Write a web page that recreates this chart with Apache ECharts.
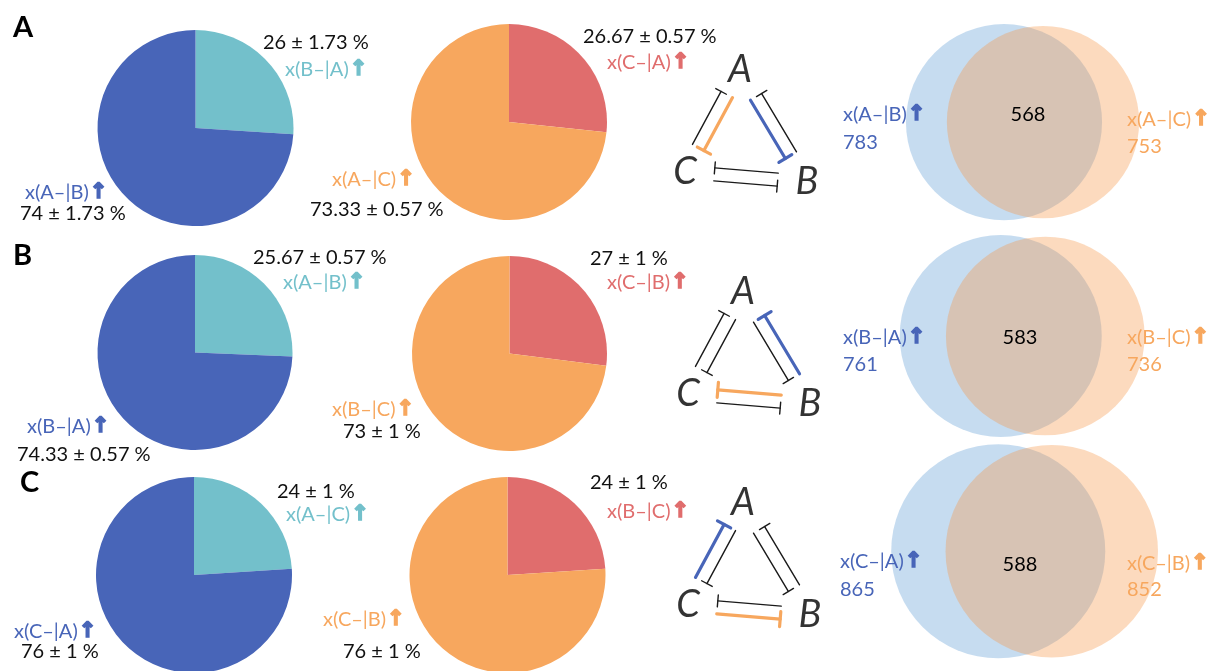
<!DOCTYPE html>
<html>
<head>
<meta charset="utf-8">
<script src="https://cdn.jsdelivr.net/npm/echarts@6/dist/echarts.min.js"></script>
<style>
  html, body { margin: 0; padding: 0; background: #fff; }
  #chart { width: 1218px; height: 671px; }
</style>
</head>
<body>
<div id="chart"></div>
<script>
// ---------- data ----------
const panels = ['A', 'B', 'C'];

// left pie of each panel (percent of cases, mean and sd)
const leftPieMinor = [26, 25.67, 24];
const leftPieMinorSd = [1.73, 0.57, 1];
const leftPieMajor = [74, 74.33, 76];
const leftPieMajorSd = [1.73, 0.57, 1];
const leftPieMinorName = ['x(B–|A)', 'x(A–|B)', 'x(A–|C)'];
const leftPieMajorName = ['x(A–|B)', 'x(B–|A)', 'x(C–|A)'];

// right pie of each panel
const rightPieMinor = [26.67, 27, 24];
const rightPieMinorSd = [0.57, 1, 1];
const rightPieMajor = [73.33, 73, 76];
const rightPieMajorSd = [0.57, 1, 1];
const rightPieMinorName = ['x(C–|A)', 'x(C–|B)', 'x(B–|C)'];
const rightPieMajorName = ['x(A–|C)', 'x(B–|C)', 'x(C–|B)'];

// overlap of the two up-regulated sets
const vennLeft = [783, 761, 865];
const vennRight = [753, 736, 852];
const vennShared = [568, 583, 588];

// mutual-inhibition network: highlighted links leave the panel's gene
// [target drawn in blue, target drawn in orange]
const highlightTargets = [['B', 'C'], ['A', 'C'], ['A', 'B']];

// ---------- styling / layout ----------
const COL = {
  blue: '#4865B8', teal: '#73C0CB', orange: '#F7A75E', red: '#E06D6D',
  vennBlue: 'rgba(91,155,213,0.35)', vennOrange: 'rgba(247,150,70,0.35)',
  ink: '#111'
};
const FONT = 'Lato, "Noto Sans", sans-serif';

const pieLayout = [
  { left: [195.5, 128, 98], right: [509, 122, 98] },
  { left: [195, 352.5, 97.5], right: [509.5, 353.5, 97.5] },
  { left: [194, 575, 98], right: [507.5, 575, 98] }
];
// anchor (left x, middle y) of the pie captions:
// leftMinorVal, leftMinorName, leftMajorName, leftMajorVal, rightMinorVal, rightMinorName, rightMajorName, rightMajorVal
const pieTextPos = [
  [[263, 43], [285, 70], [25, 193], [20, 214], [583, 37], [607, 63], [332, 180], [310, 210]],
  [[253, 258], [283, 283], [27, 427], [17, 455], [590, 259], [607, 283], [332, 410], [343, 432]],
  [[277, 492], [286, 515], [14, 632], [21, 652], [590, 483], [607, 512], [323, 620], [343, 652]]
];
const panelLetterPos = [[13, 28], [13, 256], [20, 483]];

// network grids: local origin sits on node A, 1 unit = 1 px
const netOrigin = [[740, 70], [743, 292], [743, 503]];
const netNodes = { A: [0, 0], B: [67, 112], C: [-55, 102] };
// lines drawn on the outer side of each node pair
const outerLinks = ['C>A', 'B>A', 'C>B'];

// venn grids: axis units are sqrt(count / pi), so circle area follows the counts
const vennCenter = [[1023.5, 120], [1023, 336], [1025, 560.5]];
const vennPxPerUnit = [6.21, 6.49, 6.45];
const vennHalfGap = [3.14, 3.43, 4.15];
const vennTextPos = [
  { ln: [843, 115], lc: [843, 143], sh: [1028, 115], rn: [1127, 120], rc: [1127, 147] },
  { ln: [843, 338], lc: [843, 365], sh: [1020, 338], rn: [1127, 338], rc: [1127, 365] },
  { ln: [840, 562], lc: [840, 590], sh: [1020, 565], rn: [1127, 564], rc: [1127, 590] }
];

// ---------- build ----------
const grids = [], xAxes = [], yAxes = [], series = [], graphics = [];

function addGrid(left, top, w, h, xr, yr, inverse) {
  grids.push({ left, top, width: w, height: h, containLabel: false, show: false });
  const i = grids.length - 1;
  xAxes.push({ gridIndex: i, type: 'value', min: xr[0], max: xr[1], show: false });
  yAxes.push({ gridIndex: i, type: 'value', min: yr[0], max: yr[1], inverse: !!inverse, show: false });
  return i;
}

function pctText(v, sd) { return v + ' ± ' + sd + ' %'; }

function plainText(x, y, text, fill, size, weight, align) {
  graphics.push({
    type: 'text', x, y, silent: true, z: 100,
    style: {
      text, fill, font: (weight || 'normal') + ' ' + (size || 20) + 'px ' + FONT,
      align: align || 'left', verticalAlign: 'middle',
      textAlign: align || 'left', textVerticalAlign: 'middle'
    }
  });
}

function arrowText(x, y, name, fill) {
  graphics.push({
    type: 'text', x, y, silent: true, z: 100,
    style: {
      text: '{n|' + name + '}{a|↑}',
      align: 'left', verticalAlign: 'middle', textAlign: 'left', textVerticalAlign: 'middle',
      rich: {
        n: { fill, fontSize: 20, fontFamily: FONT, verticalAlign: 'middle' },
        a: { fill, fontSize: 21, fontWeight: 'bold', fontFamily: '"DejaVu Sans"',
             stroke: fill, lineWidth: 1.6, verticalAlign: 'middle', padding: [0, 0, 0, 1] }
      }
    }
  });
}

panels.forEach((p, r) => {
  // panel letter
  plainText(panelLetterPos[r][0], panelLetterPos[r][1], p, '#000', 29, 'bold');

  // pies
  const L = pieLayout[r].left, R = pieLayout[r].right;
  const pieBase = {
    type: 'pie', startAngle: 90, clockwise: true, silent: true,
    label: { show: false }, labelLine: { show: false },
    itemStyle: { borderWidth: 0 }, emphasis: { disabled: true }
  };
  series.push(Object.assign({}, pieBase, {
    center: [L[0], L[1]], radius: L[2],
    data: [
      { name: leftPieMinorName[r], value: leftPieMinor[r], itemStyle: { color: COL.teal } },
      { name: leftPieMajorName[r], value: leftPieMajor[r], itemStyle: { color: COL.blue } }
    ]
  }));
  series.push(Object.assign({}, pieBase, {
    center: [R[0], R[1]], radius: R[2],
    data: [
      { name: rightPieMinorName[r], value: rightPieMinor[r], itemStyle: { color: COL.red } },
      { name: rightPieMajorName[r], value: rightPieMajor[r], itemStyle: { color: COL.orange } }
    ]
  }));
  const tp = pieTextPos[r];
  plainText(tp[0][0], tp[0][1], pctText(leftPieMinor[r], leftPieMinorSd[r]), COL.ink);
  arrowText(tp[1][0], tp[1][1], leftPieMinorName[r], COL.teal);
  arrowText(tp[2][0], tp[2][1], leftPieMajorName[r], COL.blue);
  plainText(tp[3][0], tp[3][1], pctText(leftPieMajor[r], leftPieMajorSd[r]), COL.ink);
  plainText(tp[4][0], tp[4][1], pctText(rightPieMinor[r], rightPieMinorSd[r]), COL.ink);
  arrowText(tp[5][0], tp[5][1], rightPieMinorName[r], COL.red);
  arrowText(tp[6][0], tp[6][1], rightPieMajorName[r], COL.orange);
  plainText(tp[7][0], tp[7][1], pctText(rightPieMajor[r], rightPieMajorSd[r]), COL.ink);

  // inhibition network
  const o = netOrigin[r];
  const gi = addGrid(o[0] - 90, o[1] - 40, 200, 200, [-90, 110], [-40, 160], true);
  const links = [];
  ['A', 'B', 'C'].forEach(s => ['A', 'B', 'C'].forEach(t => {
    if (s === t) return;
    let color = null;
    if (s === p && t === highlightTargets[r][0]) color = COL.blue;
    if (s === p && t === highlightTargets[r][1]) color = COL.orange;
    links.push({ s, t, color, outer: outerLinks.indexOf(s + '>' + t) >= 0 });
  }));
  series.push({
    type: 'custom', xAxisIndex: gi, yAxisIndex: gi, silent: true,
    data: links.map((_, i) => [i]),
    renderItem: (params, api) => {
      const lk = links[params.dataIndex];
      const P = api.coord(netNodes[lk.s]), Q = api.coord(netNodes[lk.t]);
      const nodesPx = ['A', 'B', 'C'].map(k => api.coord(netNodes[k]));
      const G = [(nodesPx[0][0] + nodesPx[1][0] + nodesPx[2][0]) / 3,
                 (nodesPx[0][1] + nodesPx[1][1] + nodesPx[2][1]) / 3];
      const dx = Q[0] - P[0], dy = Q[1] - P[1];
      const len = Math.hypot(dx, dy);
      const u = [dx / len, dy / len];
      let n = [-u[1], u[0]];
      const mid = [(P[0] + Q[0]) / 2, (P[1] + Q[1]) / 2];
      if ((mid[0] - G[0]) * n[0] + (mid[1] - G[1]) * n[1] < 0) n = [-n[0], -n[1]];
      const off = (lk.outer ? 1 : -1) * 6.5;
      const a = [P[0] + u[0] * len * 0.24 + n[0] * off, P[1] + u[1] * len * 0.24 + n[1] * off];
      const b = [P[0] + u[0] * len * 0.76 + n[0] * off, P[1] + u[1] * len * 0.76 + n[1] * off];
      const hi = !!lk.color;
      const half = hi ? 7.5 : 6;
      const style = { stroke: lk.color || '#1a1a1a', lineWidth: hi ? 3.2 : 1.4, lineCap: 'round' };
      return {
        type: 'group',
        children: [
          { type: 'line', shape: { x1: a[0], y1: a[1], x2: b[0], y2: b[1] }, style },
          { type: 'line', shape: { x1: b[0] - n[0] * half, y1: b[1] - n[1] * half,
                                   x2: b[0] + n[0] * half, y2: b[1] + n[1] * half }, style }
        ]
      };
    }
  });
  series.push({
    type: 'scatter', xAxisIndex: gi, yAxisIndex: gi, silent: true, symbolSize: 0,
    data: ['A', 'B', 'C'].map(k => ({ name: k, value: netNodes[k] })),
    label: {
      show: true, position: 'inside', formatter: '{b}', color: '#000',
      fontSize: 38, fontStyle: 'italic', fontWeight: 'normal', fontFamily: FONT
    }
  });

  // venn diagram
  const vc = vennCenter[r], k = vennPxPerUnit[r], half = 20 * k;
  const vi = addGrid(vc[0] - half, vc[1] - half, 2 * half, 2 * half, [-20, 20], [-20, 20], false);
  series.push({
    type: 'custom', xAxisIndex: vi, yAxisIndex: vi, silent: true, z: 1,
    data: [[0, 0]],
    renderItem: (params, api) => {
      const r1 = Math.sqrt(vennLeft[r] / Math.PI), r2 = Math.sqrt(vennRight[r] / Math.PI);
      const c1 = api.coord([-vennHalfGap[r], 0]), c2 = api.coord([vennHalfGap[r], 0]);
      const p1 = api.size([r1, 0])[0], p2 = api.size([r2, 0])[0];
      return {
        type: 'group',
        children: [
          { type: 'circle', shape: { cx: c1[0], cy: c1[1], r: p1 }, style: { fill: COL.vennBlue } },
          { type: 'circle', shape: { cx: c2[0], cy: c2[1], r: p2 }, style: { fill: COL.vennOrange } }
        ]
      };
    }
  });
  const vt = vennTextPos[r];
  arrowText(vt.ln[0], vt.ln[1], leftPieMajorName[r], COL.blue);
  plainText(vt.lc[0], vt.lc[1], String(vennLeft[r]), COL.blue);
  plainText(vt.sh[0], vt.sh[1], String(vennShared[r]), '#000', 20, 'normal', 'center');
  arrowText(vt.rn[0], vt.rn[1], rightPieMajorName[r], COL.orange);
  plainText(vt.rc[0], vt.rc[1], String(vennRight[r]), COL.orange);
});

const chart = echarts.init(document.getElementById('chart'), null, { renderer: 'canvas' });
chart.setOption({
  animation: false,
  backgroundColor: '#fff',
  grid: grids, xAxis: xAxes, yAxis: yAxes,
  series,
  graphic: { elements: graphics }
});
</script>
</body>
</html>
